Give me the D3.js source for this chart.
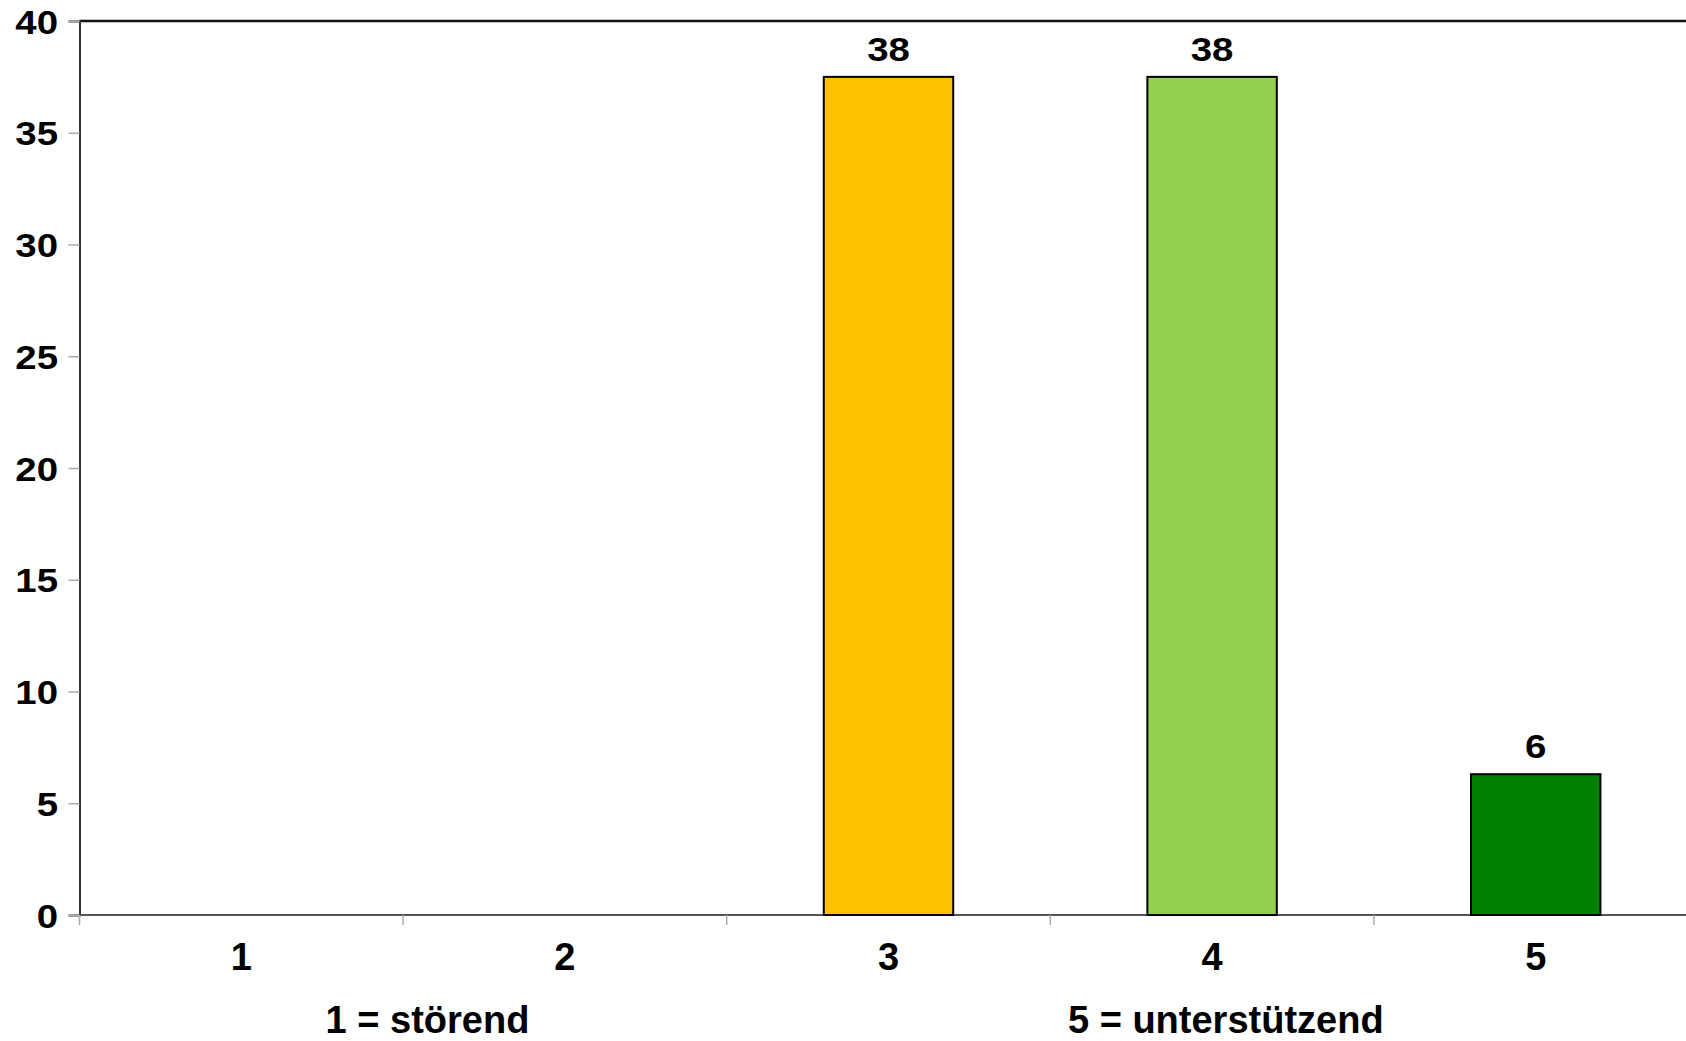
<!DOCTYPE html>
<html>
<head>
<meta charset="utf-8">
<script src="https://cdn.jsdelivr.net/npm/d3@7"></script>
<style>
  html, body { margin: 0; padding: 0; background: #fff; }
  svg { display: block; }
  text { font-family: "Liberation Sans", Arial, sans-serif; font-weight: bold; fill: #000; }
</style>
</head>
<body>
<svg id="chart" width="1686" height="1041"></svg>
<script>
const categories = ["1", "2", "3", "4", "5"];
const values = [0, 0, 37.5, 37.5, 6.3];
const barColors = ["#FFC000", "#FFC000", "#FFC000", "#92D050", "#008000"];
const yTicks = [0, 5, 10, 15, 20, 25, 30, 35, 40];
const scaleNotes = ["1 = störend", "5 = unterstützend"];

const svg = d3.select("#chart");
const mLeft = 79.5, mTop = 21, mBottom = 915;
const step = 323.6;
const mRight = mLeft + step * categories.length;
const stretch = 1.13;

const x = d3.scaleBand().domain(categories).range([mLeft, mRight]).paddingInner(0).paddingOuter(0);
const y = d3.scaleLinear().domain([0, 40]).range([mBottom, mTop]);

// top frame line
svg.append("line").attr("x1", mLeft).attr("x2", 1686).attr("y1", mTop).attr("y2", mTop)
  .attr("stroke", "#111").attr("stroke-width", 2.5);

// y axis
const yAxis = svg.append("g").attr("transform", `translate(${mLeft},0)`)
  .call(d3.axisLeft(y).tickValues(yTicks).tickSize(11).tickPadding(10));
yAxis.select(".domain").attr("stroke", "#333").attr("stroke-width", 2);
yAxis.selectAll(".tick line").attr("stroke", "#aaa").attr("stroke-width", 1.5);
yAxis.selectAll(".tick text").attr("font-size", 34).attr("font-family", "Liberation Sans, Arial, sans-serif")
  .attr("font-weight", "bold").attr("fill", "#000").attr("dy", "0.36em")
  .attr("x", 0).attr("transform", `translate(-21.5,0) scale(${stretch},1)`);

// x axis
const xAxis = svg.append("g").attr("transform", `translate(0,${mBottom})`)
  .call(d3.axisBottom(x).tickSize(0).tickPadding(28));
xAxis.select(".domain").remove();
xAxis.selectAll(".tick text").attr("font-size", 38).attr("font-family", "Liberation Sans, Arial, sans-serif")
  .attr("font-weight", "bold").attr("fill", "#000").attr("dy", "0.7em");
svg.append("line").attr("x1", mLeft).attr("x2", 1686).attr("y1", mBottom).attr("y2", mBottom)
  .attr("stroke", "#555").attr("stroke-width", 2);
// x ticks at band boundaries
svg.append("g").selectAll("line").data(categories).join("line")
  .attr("x1", d => x(d)).attr("x2", d => x(d))
  .attr("y1", mBottom).attr("y2", mBottom + 10)
  .attr("stroke", "#aaa").attr("stroke-width", 1.5);

// bars
const bw = x.bandwidth() * 0.4;
const data = categories.map((c, i) => ({ c, v: values[i], color: barColors[i] })).filter(d => d.v > 0);
svg.append("g").selectAll("rect").data(data).join("rect")
  .attr("x", d => x(d.c) + (x.bandwidth() - bw) / 2)
  .attr("y", d => y(d.v))
  .attr("width", bw)
  .attr("height", d => y(0) - y(d.v))
  .attr("fill", d => d.color)
  .attr("stroke", "#000").attr("stroke-width", 2);

// value labels
svg.append("g").selectAll("text").data(data).join("text")
  .attr("transform", d => `translate(${x(d.c) + x.bandwidth() / 2},${y(d.v) - 16}) scale(${stretch},1)`)
  .attr("text-anchor", "middle")
  .attr("font-size", 34)
  .text(d => Math.round(d.v));

// scale notes
svg.append("text").attr("x", 427.5).attr("y", 1033).attr("text-anchor", "middle")
  .attr("font-size", 38).text(scaleNotes[0]);
svg.append("text").attr("x", 1225.8).attr("y", 1033).attr("text-anchor", "middle")
  .attr("font-size", 38).text(scaleNotes[1]);
</script>
</body>
</html>
